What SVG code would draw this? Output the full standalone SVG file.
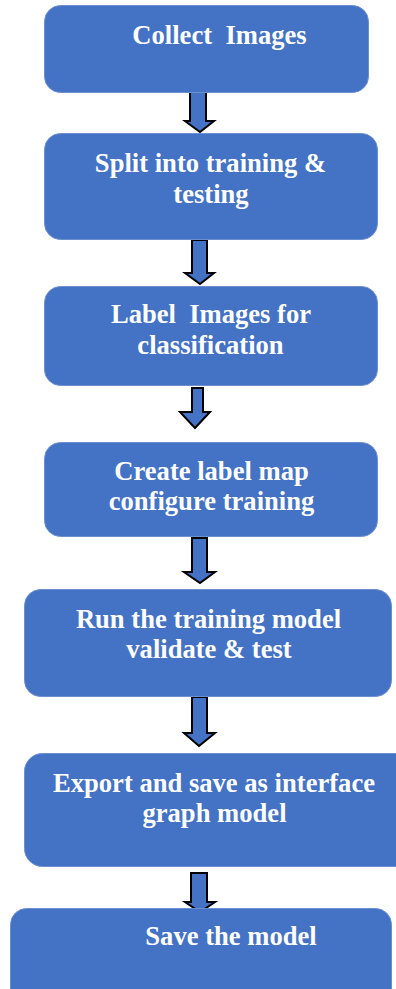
<svg xmlns="http://www.w3.org/2000/svg" width="396" height="989" viewBox="0 0 396 989">
<style>
.box{fill:#4472C4;stroke:#6C8FD0;stroke-width:1}
.t{font-family:'Liberation Serif','Times New Roman',Times,serif;font-weight:700;font-size:26.6px;fill:#ffffff;text-anchor:middle}
.arr{fill:#4472C4;stroke:#000000;stroke-width:2;stroke-linejoin:miter}
</style>
<rect width="396" height="989" fill="#ffffff"/>
<g id="connectors">
<path class="arr" d="M190,92 H206 V121 H214 L200,132 L185,121 H190 Z"/>
<path class="arr" d="M192,240 H207 V273 H214 L200,284 L185,273 H192 Z"/>
<path class="arr" d="M192,388 H203 V412 H210 L195,428 L180,412 H192 Z"/>
<path class="arr" d="M192,538 H207 V572 H215 L200,583 L184,572 H192 Z"/>
<path class="arr" d="M192,697 H207 V733 H215 L199,746 L184,733 H192 Z"/>
<path class="arr" d="M191,873 H207 V902 H215 L200,912 L185,902 H191 Z"/>
</g>
<g id="n1">
<rect class="box" x="44.5" y="5.5" width="324" height="87" rx="16"/>
<text class="t" x="219.5" y="44" xml:space="preserve">Collect  Images</text>
</g>
<g id="n2">
<rect class="box" x="44.5" y="133.5" width="333" height="106" rx="16"/>
<text class="t" x="210.5" y="172">Split into training &amp;</text>
<text class="t" x="211" y="203">testing</text>
</g>
<g id="n3">
<rect class="box" x="44.5" y="286.5" width="333" height="99" rx="16"/>
<text class="t" x="211" y="323" xml:space="preserve">Label  Images for</text>
<text class="t" x="210.5" y="354">classification</text>
</g>
<g id="n4">
<rect class="box" x="44.5" y="442.5" width="333" height="94" rx="16"/>
<text class="t" x="211.5" y="480">Create label map</text>
<text class="t" x="211.5" y="510">configure training</text>
</g>
<g id="n5">
<rect class="box" x="24.5" y="589.5" width="367" height="107" rx="16"/>
<text class="t" x="208.5" y="628">Run the training model</text>
<text class="t" x="209" y="658">validate &amp; test</text>
</g>
<g id="n6">
<rect class="box" x="24.5" y="753.5" width="390" height="113" rx="18"/>
<text class="t" x="214" y="792">Export and save as interface</text>
<text class="t" x="214.5" y="822">graph model</text>
</g>
<g id="n7">
<rect class="box" x="10.5" y="908.5" width="381" height="100" rx="16"/>
<text class="t" x="231" y="945">Save the model</text>
</g>
</svg>
